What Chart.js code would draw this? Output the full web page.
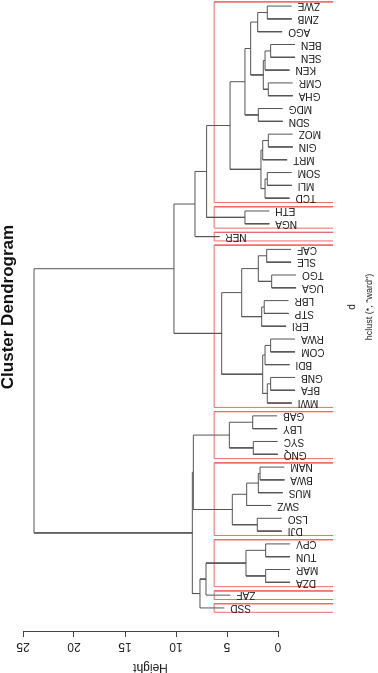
<!DOCTYPE html>
<html>
<head>
<meta charset="utf-8">
<script src="https://cdn.jsdelivr.net/npm/chart.js@4.4.1/dist/chart.umd.min.js"></script>
<style>
  html, body { margin: 0; padding: 0; background: #fff; overflow: hidden; }
  /* the chart is drawn the usual R way round, then turned a quarter to the left */
  #wrap { position: absolute; left: 0; top: 0; width: 691px; height: 378px;
          transform-origin: 0 0; transform: translate(0, 673px) rotate(-90deg); }
</style>
</head>
<body>
<div id="wrap"><canvas id="chart" width="691" height="378"></canvas></div>
<script>
// leaves in plotting order (left to right before the turn)
const leaves = ['SSD', 'ZAF', 'DZA', 'MAR', 'TUN', 'CPV', 'DJI', 'LSO', 'SWZ', 'MUS',
  'BWA', 'NAM', 'GNQ', 'SYC', 'LBY', 'GAB', 'MWI', 'BFA', 'GNB', 'BDI',
  'COM', 'RWA', 'ERI', 'STP', 'LBR', 'UGA', 'TGO', 'SLE', 'CAF', 'NER',
  'NGA', 'ETH', 'TCD', 'MLI', 'SOM', 'MRT', 'GIN', 'MOZ', 'SDN', 'MDG',
  'GHA', 'CMR', 'KEN', 'SEN', 'BEN', 'AGO', 'ZMB', 'ZWE']

// merges: a string is a leaf, a number is an earlier merge (1-based)
const mergeA = ['BEN', 'RWA', 'GNB', 'TGO', 'ZWE', 'CMR', 'MOZ', 'SOM', 'CAF', 'CPV',
  'MAR', 'LBR', 1, 2, 3, 8, 7, 13, 12, 17,
  14, 'NAM', 22, 5, 'MDG', 9, 'LSO', 'GAB', 'SYC', 24,
  23, 10, 30, 'ETH', 26, 31, 33, 28, 35, 37,
  'ZAF', 'SSD', 40, 38, 44, 43, 46]
const mergeB = ['SEN', 'COM', 'BFA', 'UGA', 'ZMB', 'GHA', 'GIN', 'MLI', 'SLE', 'TUN',
  'DZA', 'STP', 'KEN', 'BDI', 'MWI', 'TCD', 'MRT', 6, 'ERI', 16,
  15, 'BWA', 'MUS', 'AGO', 'SDN', 4, 'DJI', 'LBY', 'GNQ', 18,
  'SWZ', 11, 25, 'NGA', 19, 27, 20, 29, 21, 34,
  32, 41, 'NER', 36, 42, 39, 45]
const mergeHeight = [0.72, 0.72, 0.72, 0.62, 1.05, 0.95, 0.95, 1.05, 1.11, 1.21,
  1.21, 1.35, 1.27, 1.27, 1.05, 1.27, 1.5, 1.44, 1.6, 1.67,
  1.5, 1.76, 1.93, 1.99, 1.93, 1.93, 2.03, 2.48, 2.42, 2.68,
  3.07, 3.14, 3.24, 3.24, 3.56, 4.48, 4.7, 4.77, 5.52, 7.0,
  7.06, 7.65, 8.14, 8.3, 8.4, 10.2, 23.92]

const heightTicks = [0, 5, 10, 15, 20, 25]
const k = 9              // rect.hclust(k = 9)
const rectFloor = -5.4   // bottom of the R plot region

const hang = 0.1 * Math.max(...mergeHeight)
const nodeX = []
const leafEnd = {}
const posOf = c => typeof c === 'string' ? leaves.indexOf(c) + 1 : nodeX[c - 1]
const topOf = (c, h) => typeof c === 'string' ? h - hang : mergeHeight[c - 1]

const treePts = []
mergeHeight.forEach((h, i) => {
  const a = mergeA[i], b = mergeB[i]
  const xa = posOf(a), xb = posOf(b)
  nodeX[i] = (xa + xb) / 2
  for (const c of [a, b]) if (typeof c === 'string') leafEnd[c] = h - hang
  treePts.push({x: xa, y: topOf(a, h)}, {x: xa, y: h}, {x: xb, y: h},
    {x: xb, y: topOf(b, h)}, {x: xb, y: null})
})

// cut the tree into k groups like rect.hclust does
const sorted = [...mergeHeight].sort((p, q) => q - p)
const cut = (sorted[k - 2] + sorted[k - 1]) / 2
const members = c => typeof c === 'string' ? [leaves.indexOf(c) + 1]
  : members(mergeA[c - 1]).concat(members(mergeB[c - 1]))
function split(c, out) {
  if (typeof c === 'string' || mergeHeight[c - 1] < cut) out.push(members(c))
  else { split(mergeA[c - 1], out); split(mergeB[c - 1], out) }
  return out
}
const rectPts = []
split(mergeHeight.length, []).forEach(m => {
  const lo = Math.min(...m) - 0.34, hi = Math.max(...m) + 0.33
  rectPts.push({x: lo, y: rectFloor}, {x: lo, y: cut}, {x: hi, y: cut},
    {x: hi, y: rectFloor}, {x: hi, y: null})
})

const FONT = '"Liberation Sans", Arial, Helvetica, sans-serif'
Chart.defaults.font.family = FONT
Chart.defaults.color = '#222'

const leafLabels = {
  id: 'leafLabels',
  afterDatasetsDraw(chart) {
    const {ctx, scales: {x, y}} = chart
    ctx.save()
    ctx.font = '10px ' + FONT
    ctx.fillStyle = '#222'
    ctx.textAlign = 'right'
    ctx.textBaseline = 'middle'
    leaves.forEach((name, i) => {
      ctx.save()
      ctx.translate(x.getPixelForValue(i + 1), y.getPixelForValue(leafEnd[name]) + 6)
      ctx.rotate(-Math.PI / 2)
      ctx.fillText(name, 0, 0)
      ctx.restore()
    })
    ctx.restore()
  }
}

new Chart(document.getElementById('chart'), {
  type: 'scatter',
  data: {
    datasets: [
      {
        label: 'tree',
        data: treePts,
        showLine: true,
        borderColor: '#555',
        borderWidth: 1,
        pointRadius: 0,
        spanGaps: false,
        clip: false
      },
      {
        label: 'clusters',
        data: rectPts,
        showLine: true,
        borderColor: '#f06a6a',
        borderWidth: 1,
        pointRadius: 0,
        spanGaps: false,
        clip: false
      }
    ]
  },
  options: {
    responsive: false,
    animation: false,
    layout: { padding: 0 },
    plugins: {
      legend: { display: false },
      tooltip: { enabled: false },
      title: {
        display: true,
        text: 'Cluster Dendrogram',
        fullSize: false,
        color: '#111',
        font: { size: 17, weight: 'bold', lineHeight: 1 },
        padding: { top: 0, bottom: 6 }
      },
      subtitle: {
        display: true,
        text: 'hclust (*, "ward")',
        position: 'bottom',
        fullSize: false,
        color: '#222',
        font: { size: 9, lineHeight: 1 },
        padding: { top: 4, bottom: 4 }
      }
    },
    scales: {
      x: {
        type: 'linear',
        position: 'bottom',
        min: -0.88,
        max: 49.88,
        ticks: { display: false },
        grid: { display: false },
        border: { display: false },
        title: {
          display: true,
          text: 'd',
          font: { size: 10, lineHeight: 1 },
          padding: { top: 0, bottom: 4 }
        },
        afterFit: s => { s.height = 83 }
      },
      y: {
        type: 'linear',
        position: 'left',
        min: 0,
        max: 25,
        afterBuildTicks: s => { s.ticks = heightTicks.map(v => ({ value: v })) },
        ticks: {
          minRotation: 90,
          maxRotation: 90,
          crossAlign: 'center',
          padding: 3,
          font: { size: 12 }
        },
        grid: { drawOnChartArea: false, drawTicks: true, tickLength: 5, color: '#444' },
        border: { display: true, color: '#444' },
        title: {
          display: true,
          text: 'Height',
          font: { size: 12, lineHeight: 1 },
          padding: { top: 0, bottom: 0 }
        },
        afterFit: s => { s.width = 41 }
      }
    }
  },
  plugins: [leafLabels]
})
</script>
</body>
</html>
